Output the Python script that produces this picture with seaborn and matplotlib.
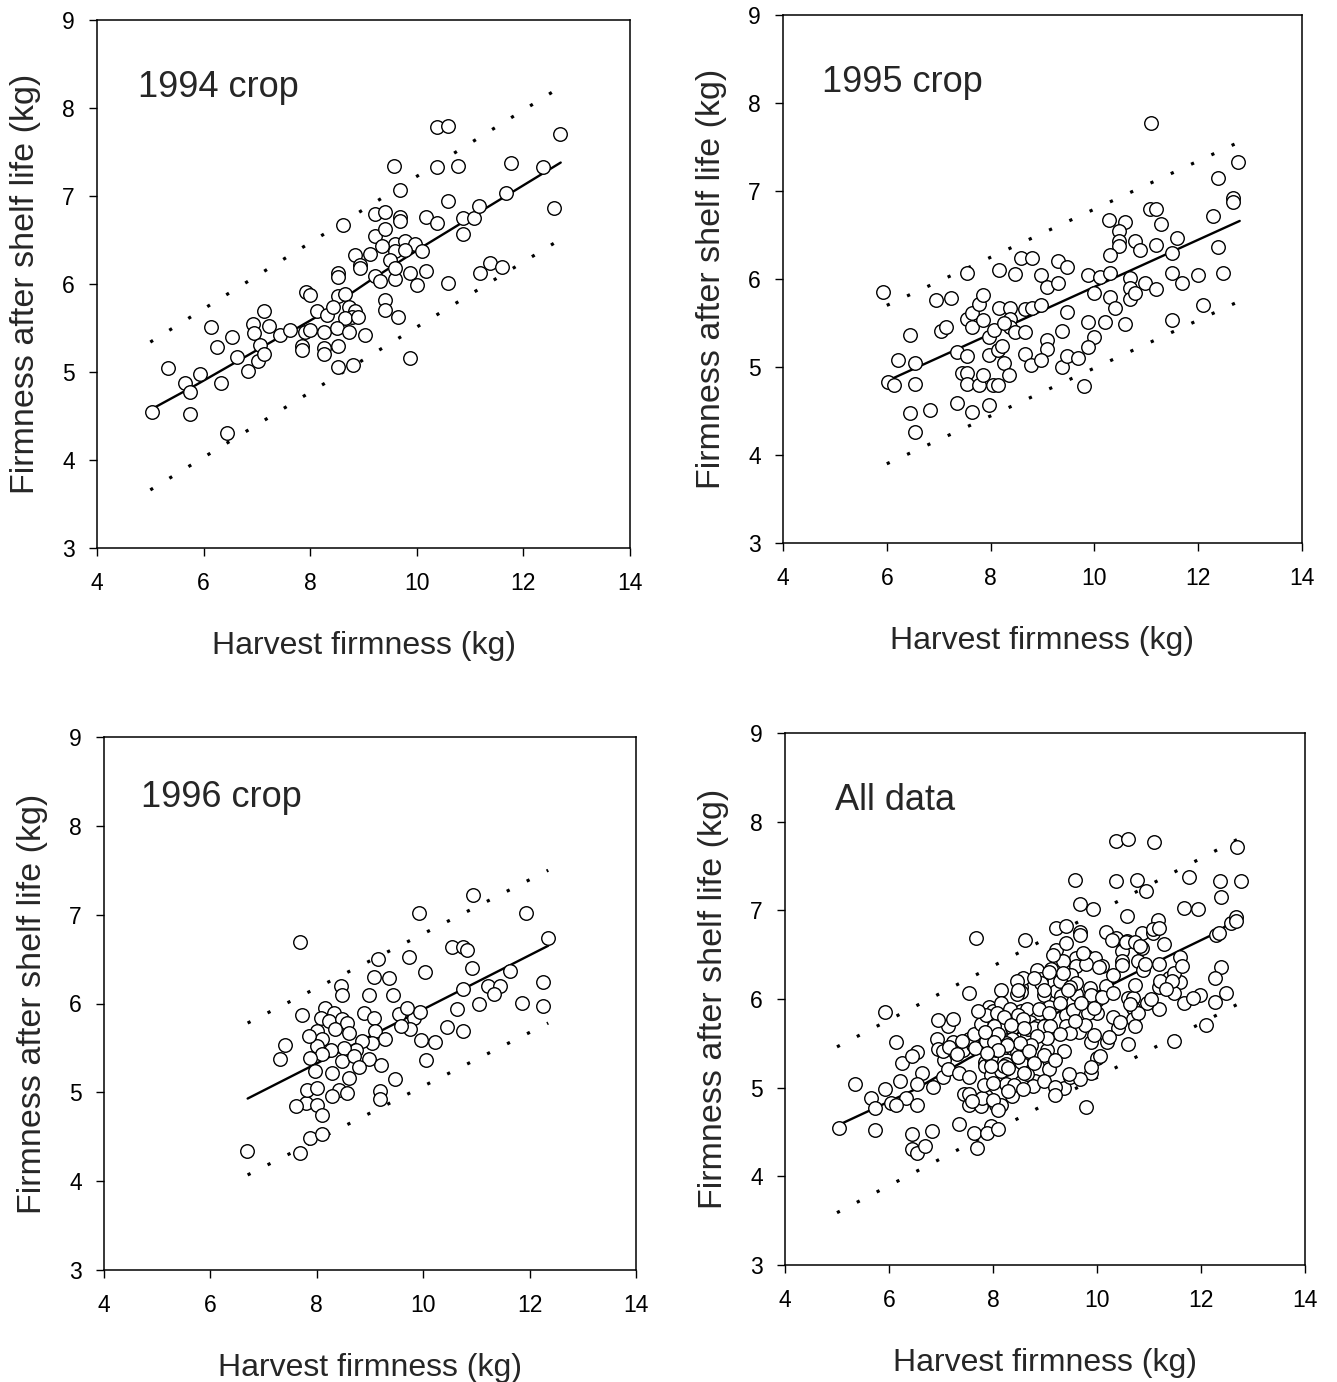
import numpy as np
import pandas as pd
import matplotlib
matplotlib.use("Agg")
import matplotlib.pyplot as plt
import seaborn as sns

# ---------------- data ----------------
x94 = [5.04, 5.34, 5.65, 5.74, 5.74, 5.93, 6.14, 6.25, 6.33, 6.44, 6.54, 6.63, 6.84, 6.93,
       6.95, 7.05, 7.03, 7.13, 7.14, 7.23, 7.43, 8.62, 9.22, 9.22,
       8.84, 9.12, 8.93, 8.93, 8.53, 8.53, 9.22, 9.31, 9.59, 7.93, 8.00, 8.53, 8.65, 9.40,
       9.40, 9.65, 8.12, 8.31, 8.43, 8.72, 8.84, 8.78, 8.65, 8.90, 7.62, 7.90, 8.00, 8.25,
       8.50, 8.72, 9.03, 7.84, 7.84, 8.25, 8.25, 8.53, 8.53, 8.81,
       10.37, 10.59, 12.69, 9.57, 10.37, 10.77, 11.77, 12.37, 9.68, 10.58, 9.40, 9.68,
       9.68, 10.17, 10.37, 9.40, 10.87, 11.07, 11.17, 10.87, 11.67, 12.57, 9.59, 9.78,
       9.97, 9.59, 9.78, 10.09, 9.35, 9.50, 9.59, 9.87, 10.18, 10.00, 10.59, 11.19, 11.38,
       11.59, 9.88]
y94 = [4.55, 5.04, 4.88, 4.77, 4.52, 4.98, 5.51, 5.28, 4.88, 4.31, 5.40, 5.17, 5.01, 5.55,
       5.44, 5.31, 5.12, 5.21, 5.69, 5.52, 5.42, 6.67, 6.80, 6.55,
       6.33, 6.34, 6.22, 6.18, 6.13, 6.08, 6.09, 6.03, 6.06, 5.91, 5.87, 5.86, 5.89, 5.82,
       5.70, 5.63, 5.69, 5.65, 5.74, 5.74, 5.69, 5.63, 5.61, 5.63, 5.48, 5.46, 5.48, 5.46,
       5.50, 5.46, 5.42, 5.29, 5.25, 5.27, 5.21, 5.29, 5.06, 5.08,
       7.78, 7.80, 7.71, 7.34, 7.33, 7.34, 7.38, 7.33, 7.07, 6.94, 6.82, 6.76,
       6.72, 6.76, 6.69, 6.63, 6.75, 6.75, 6.89, 6.57, 7.03, 6.86, 6.46, 6.49,
       6.46, 6.37, 6.39, 6.37, 6.43, 6.27, 6.18, 6.12, 6.15, 5.99, 6.01, 6.13, 6.24,
       6.19, 5.16]

x95 = [5.92, 6.03, 6.13, 6.22, 6.45, 6.54, 6.54, 6.45, 6.54, 6.83, 6.95, 7.24, 7.04, 7.15,
       7.35, 7.35, 7.44, 7.54, 7.54, 7.54, 7.54, 7.64, 7.54, 7.64, 7.65, 7.77, 7.86, 7.86,
       7.77, 7.86, 7.96, 7.96, 7.96, 8.06, 8.05, 8.15, 8.15, 8.16, 8.17, 8.22, 8.25, 8.37,
       8.37, 8.37, 8.25, 8.36, 8.47, 8.47, 8.58, 8.79, 8.67, 8.79, 8.67, 8.66, 8.77, 8.98,
       8.98, 9.08, 9.08, 9.08, 8.98, 9.29, 9.29, 9.48, 9.48, 9.37, 9.37, 9.48, 9.68, 9.79,
       9.88, 9.88, 10.00, 10.00, 9.88, 10.10,
       11.09, 12.77, 12.38, 12.68, 12.68, 11.07, 11.19, 11.28, 12.28, 10.29, 10.58, 10.48,
       10.48, 10.48, 10.30, 10.78, 10.88, 11.19, 11.59, 11.49, 12.39, 10.30, 10.69, 11.49,
       11.68, 11.99, 12.48, 10.30, 10.69, 10.69, 10.97, 11.19, 10.78, 10.40, 12.10, 10.20,
       10.59, 11.49]
y95 = [5.85, 4.83, 4.80, 5.08, 5.36, 5.04, 4.81, 4.48, 4.26, 4.51, 5.76, 5.78, 5.41, 5.46,
       5.17, 4.59, 4.93, 6.07, 5.12, 4.93, 4.81, 4.49, 5.55, 5.61, 5.45, 5.72, 5.82, 5.53,
       4.79, 4.91, 5.34, 5.14, 4.57, 5.42, 4.80, 4.80, 5.19, 6.10, 5.67, 5.24, 5.04, 5.67,
       5.55, 5.45, 5.50, 4.91, 6.06, 5.40, 6.24, 6.24, 5.66, 5.67, 5.40, 5.15, 5.02, 6.05,
       5.70, 5.91, 5.31, 5.21, 5.08, 6.20, 5.96, 6.14, 5.62, 5.41, 5.00, 5.12, 5.10, 4.78,
       6.05, 5.51, 5.84, 5.34, 5.23, 6.02,
       7.77, 7.33, 7.15, 6.92, 6.88, 6.79, 6.80, 6.62, 6.72, 6.67, 6.65, 6.54,
       6.43, 6.38, 6.27, 6.43, 6.33, 6.39, 6.47, 6.29, 6.36, 6.07, 6.01, 6.07,
       5.96, 6.05, 6.07, 5.80, 5.90, 5.77, 5.96, 5.89, 5.84, 5.67, 5.71, 5.51,
       5.49, 5.53]

x96 = [7.68, 9.93, 9.15, 9.73, 10.03, 9.07, 9.35, 8.46, 7.40, 7.30, 9.83, 9.94, 9.76, 9.95,
       10.23, 10.05, 7.79, 7.60, 8.00, 8.10, 7.88, 8.10, 7.69, 6.69,
       8.48, 8.98, 9.44, 7.72, 8.16, 8.32, 8.07, 8.22, 8.48, 8.57, 8.88, 9.07, 9.54, 9.70,
       9.58, 8.01, 8.10, 8.35, 8.60, 9.10, 9.29, 9.04, 8.85, 8.73, 8.51, 8.26, 8.01, 7.85,
       8.10, 7.88, 8.48, 8.70, 8.98, 9.20, 8.79, 7.97, 8.29, 8.60, 7.82, 8.00, 8.41, 8.57,
       8.29, 9.19, 9.19, 9.47,
       10.94, 11.94, 12.35, 10.55, 10.74, 10.83, 10.92, 11.63, 10.74, 11.22, 11.44, 11.33,
       11.04, 10.63, 11.85, 12.26, 12.26, 10.45, 10.74]
y96 = [6.69, 7.02, 6.50, 6.52, 6.36, 6.30, 6.29, 6.20, 5.53, 5.38, 5.84, 5.90, 5.71, 5.59,
       5.57, 5.36, 4.88, 4.85, 4.86, 4.75, 4.49, 4.53, 4.32, 4.34,
       6.10, 6.10, 6.10, 5.87, 5.95, 5.89, 5.84, 5.80, 5.82, 5.78, 5.89, 5.84, 5.88, 5.95,
       5.75, 5.69, 5.60, 5.71, 5.67, 5.69, 5.60, 5.56, 5.58, 5.48, 5.50, 5.48, 5.52, 5.63,
       5.43, 5.39, 5.35, 5.41, 5.37, 5.31, 5.28, 5.24, 5.22, 5.16, 5.03, 5.05, 5.03, 4.99,
       4.96, 5.01, 4.92, 5.15,
       7.22, 7.02, 6.74, 6.64, 6.64, 6.60, 6.40, 6.37, 6.16, 6.20, 6.20, 6.11,
       6.00, 5.94, 6.01, 6.24, 5.97, 5.74, 5.69]

# fitted lines and prediction bands
fit94_x = [5.0, 5.85, 7.35, 7.7, 8.1, 9.1, 10.1, 12.7]
fit94_y = [4.57, 4.85, 5.37, 5.48, 5.62, 6.03, 6.42, 7.38]
band94_x = [5.0, 12.7]
up94_y = [5.34, 8.24]
lo94_y = [3.66, 6.51]

fit95_x = [6.0, 12.8]
fit95_y = [4.84, 6.66]
band95_x = [6.0, 12.8]
up95_y = [5.70, 7.56]
lo95_y = [3.90, 5.75]

fit96_x = [6.7, 12.35]
fit96_y = [4.93, 6.65]
band96_x = [6.7, 12.35]
up96_y = [5.78, 7.50]
lo96_y = [4.07, 5.78]

fitall_x = [4.96, 6.5, 7.53, 10.41, 11.60, 12.27, 12.69]
fitall_y = [4.56, 4.98, 5.33, 6.20, 6.55, 6.74, 6.91]
bandall_x = [5.0, 12.7]
upall_y = [5.46, 7.80]
loall_y = [3.59, 5.94]

labels = ["1994 crop", "1995 crop", "1996 crop", "All data"]
xticks = [4, 6, 8, 10, 12, 14]
yticks = [3, 4, 5, 6, 7, 8, 9]

# ---------------- styling ----------------
sns.set_style("ticks")
plt.rcParams["font.family"] = ["Liberation Sans", "DejaVu Sans"]

W, H = 1337, 1382
fig = plt.figure(figsize=(W / 100, H / 100), dpi=100)

# axes boxes in pixels: left, top, right, bottom
boxes = [(97, 20, 630, 548), (783, 15, 1302, 543),
         (104, 737, 636, 1270), (785, 733, 1305, 1265)]
label_pos = [(0.077, 0.873), (0.075, 0.873), (0.070, 0.887), (0.096, 0.874)]

panels = [
    (x94, y94, fit94_x, fit94_y, band94_x, up94_y, lo94_y),
    (x95, y95, fit95_x, fit95_y, band95_x, up95_y, lo95_y),
    (x96, y96, fit96_x, fit96_y, band96_x, up96_y, lo96_y),
    (x94 + x95 + x96, y94 + y95 + y96, fitall_x, fitall_y, bandall_x, upall_y, loall_y),
]

for i, (box, pan) in enumerate(zip(boxes, panels)):
    l, t, r, b = box
    ax = fig.add_axes([l / W, 1 - b / H, (r - l) / W, (b - t) / H])
    xs, ys, fx, fy, bx, uy, ly = pan
    sns.lineplot(x=fx, y=fy, ax=ax, color="black", linewidth=1.7,
                 estimator=None, sort=False, zorder=2)
    for yy in (uy, ly):
        sns.lineplot(x=bx, y=yy, ax=ax, color="black", linewidth=2.3,
                     linestyle=(0, (1, 6)), estimator=None, sort=False, zorder=2)
    sns.scatterplot(x=xs, y=ys, ax=ax, s=95, color="white", edgecolor="black",
                    linewidth=1.0, zorder=3, legend=False)
    ax.set_xlim(4, 14)
    ax.set_ylim(3, 9)
    ax.set_xticks(xticks)
    ax.set_yticks(yticks)
    ax.tick_params(axis="both", direction="out", length=6, width=1.0,
                   labelsize=16.5, colors="black")
    ax.tick_params(axis="x", pad=11)
    ax.tick_params(axis="y", pad=10)
    for sp in ax.spines.values():
        sp.set_visible(True)
        sp.set_linewidth(1.1)
        sp.set_color("black")
    ax.set_xlabel("Harvest firmness (kg)", fontsize=23, labelpad=26)
    ax.set_ylabel("Firmness after shelf life (kg)", fontsize=24.5, labelpad=15)
    ax.text(label_pos[i][0], label_pos[i][1], labels[i], transform=ax.transAxes,
            fontsize=26, va="center", ha="left")

fig.savefig("out.png", dpi=100)
